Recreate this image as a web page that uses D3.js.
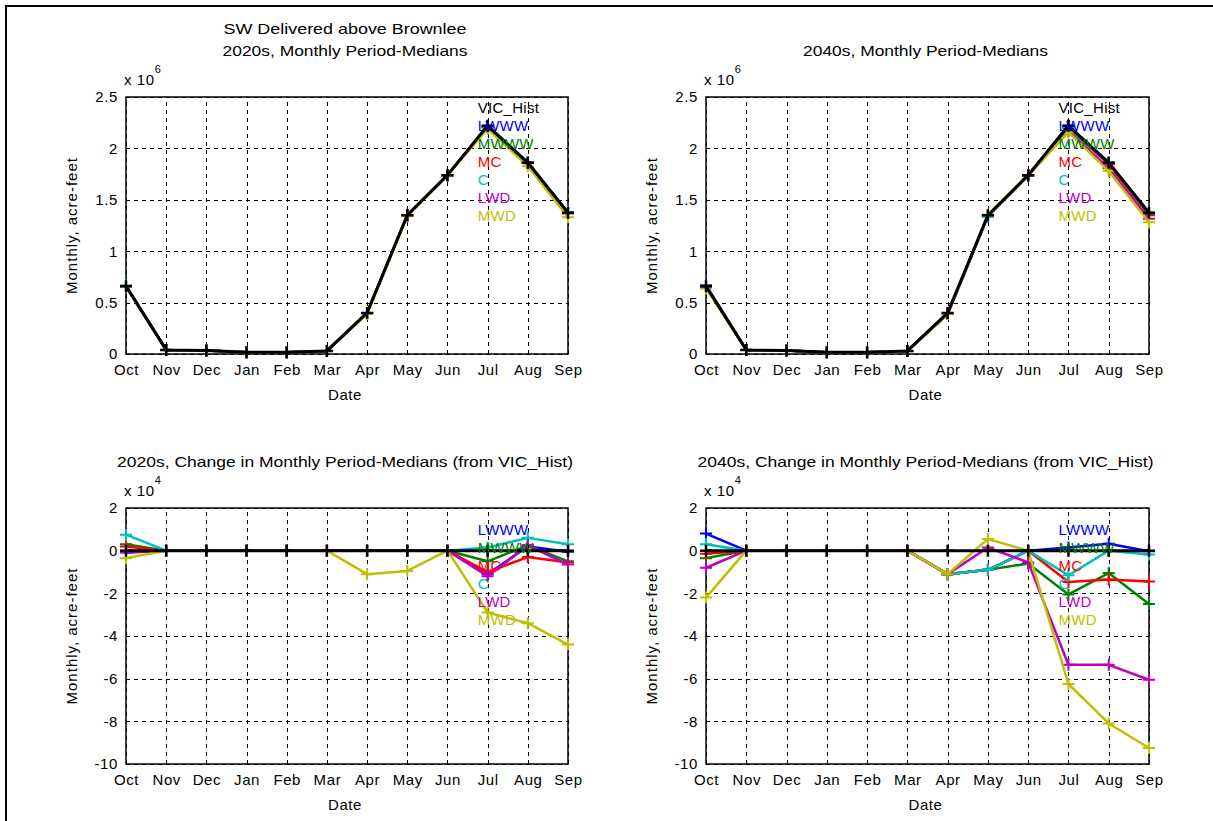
<!DOCTYPE html>
<html>
<head>
<meta charset="utf-8">
<script src="https://cdn.jsdelivr.net/npm/d3@7/dist/d3.min.js"></script>
<style>
html, body { margin: 0; background: #fff; overflow: hidden; }
svg { display: block; }
svg text { font-family: "Liberation Sans", Arial, Helvetica, sans-serif; fill: #000; }
</style>
</head>
<body>
<div id="chart"></div>
<script>
var months = ["Oct", "Nov", "Dec", "Jan", "Feb", "Mar", "Apr", "May", "Jun", "Jul", "Aug", "Sep"];
var scenarios = ["LWWW", "MWWW", "MC", "C", "LWD", "MWD"];

// VIC_Hist monthly period-medians, acre-feet
var vicHist = [660000, 40000, 33000, 16000, 16000, 30000, 400000, 1350000, 1740000, 2220000, 1860000, 1375000];

// change from VIC_Hist, acre-feet (2020s)
var chg2020s_LWWW = [0, 0, 0, 0, 0, 0, 0, 0, 0, -11000, 2000, -500];
var chg2020s_MWWW = [3000, 0, 0, 0, 0, 0, 0, 0, 0, -5000, 2500, -5000];
var chg2020s_MC   = [2000, 0, 0, 0, 0, 0, 0, 0, 0, -10000, -3000, -5500];
var chg2020s_C    = [7500, 0, 0, 0, 0, 0, 0, 0, 0, 1500, 6000, 3000];
var chg2020s_LWD  = [-1000, 0, 0, 0, 0, 0, 0, 0, 0, -12000, 2500, -6500];
var chg2020s_MWD  = [-3500, 0, 0, 0, 0, 0, -11000, -9500, 0, -29000, -34000, -44000];

// change from VIC_Hist, acre-feet (2040s)
var chg2040s_LWWW = [8000, 0, 0, 0, 0, 0, -11000, -9000, 0, 1500, 3200, -300];
var chg2040s_MWWW = [-3500, 0, 0, 0, 0, 0, -11000, -9000, -6000, -20500, -10500, -25000];
var chg2040s_MC   = [-1500, 0, 0, 0, 0, 0, -11000, -9000, 0, -14700, -13500, -14500];
var chg2040s_C    = [3000, 0, 0, 0, 0, 0, -11000, -9000, 0, -11500, 0, -1800];
var chg2040s_LWD  = [-8000, 0, 0, 0, 0, 0, -11000, 1500, -5500, -53500, -53500, -60500];
var chg2040s_MWD  = [-22000, 0, 0, 0, 0, 0, -11000, 5500, 0, -62500, -81000, -92500];

var levelTicks = [0, 500000, 1000000, 1500000, 2000000, 2500000];
var changeTicks = [-100000, -80000, -60000, -40000, -20000, 0, 20000];

var seriesColors = ["#0000ff", "#008000", "#ff0000", "#00bfbf", "#bf00bf", "#bfbf00"];
var histColor = "#000000";

var changes2020s = [chg2020s_LWWW, chg2020s_MWWW, chg2020s_MC, chg2020s_C, chg2020s_LWD, chg2020s_MWD];
var changes2040s = [chg2040s_LWWW, chg2040s_MWWW, chg2040s_MC, chg2040s_C, chg2040s_LWD, chg2040s_MWD];

var W = 1213, H = 821;
var svg = d3.select("#chart").append("svg").attr("width", W).attr("height", H);

// outer frame (only top and left edges are in the picture)
svg.append("line").attr("x1", 5).attr("x2", W).attr("y1", 6).attr("y2", 6).attr("stroke", "#000").attr("stroke-width", 2);
svg.append("line").attr("x1", 6).attr("x2", 6).attr("y1", 5).attr("y2", H).attr("stroke", "#000").attr("stroke-width", 2);

function levelSeries(changes){
    var out = [];
    changes.forEach(function(c, k){
        out.push({name: scenarios[k], color: seriesColors[k], width: 2.5,
            values: vicHist.map(function(v, i){ return v + c[i]; })});
    });
    out.push({name: "VIC_Hist", color: histColor, width: 3, values: vicHist});
    return out;
}

function changeSeries(changes){
    var out = [];
    changes.forEach(function(c, k){
        out.push({name: scenarios[k], color: seriesColors[k], width: 2.5, values: c});
    });
    out.push({name: "VIC_Hist", color: histColor, width: 3, values: vicHist.map(function(){ return 0; })});
    return out;
}

function drawPanel(p){
    var g = svg.append("g");
    var h = p.bottom - p.top;
    var w = p.right - p.left;
    var x = d3.scalePoint().domain(months).range([p.left, p.right]);
    var y = d3.scaleLinear().domain(p.domain).range([p.bottom, p.top]);

    // dashed grid
    g.append("g").attr("transform", "translate(0," + p.bottom + ")")
        .call(d3.axisBottom(x).tickSize(-h).tickFormat(""))
        .call(function(a){
            a.select(".domain").remove();
            a.selectAll("line").attr("stroke", "#000").attr("stroke-width", 1)
                .attr("stroke-dasharray", "4,4").attr("shape-rendering", "crispEdges");
        });
    g.append("g").attr("transform", "translate(" + p.left + ",0)")
        .call(d3.axisLeft(y).tickValues(p.ticks).tickSize(-w).tickFormat(""))
        .call(function(a){
            a.select(".domain").remove();
            a.selectAll("line").attr("stroke", "#000").attr("stroke-width", 1)
                .attr("stroke-dasharray", "4,4").attr("shape-rendering", "crispEdges");
        });

    // axes box
    g.append("rect").attr("x", p.left).attr("y", p.top).attr("width", w).attr("height", h)
        .attr("fill", "none").attr("stroke", "#000").attr("stroke-width", 1.5);

    // tick labels
    g.append("g").attr("transform", "translate(0," + p.bottom + ")")
        .call(d3.axisBottom(x).tickSize(0))
        .call(function(a){
            a.attr("font-size", null).attr("font-family", null);
            a.select(".domain").remove();
            a.selectAll("text").attr("y", 21).attr("dy", null)
                .style("font-size", "15px").style("letter-spacing", "0.6px");
        });
    g.append("g").attr("transform", "translate(" + p.left + ",0)")
        .call(d3.axisLeft(y).tickValues(p.ticks).tickSize(0).tickPadding(8)
            .tickFormat(function(d){ return String(Math.round(d / p.scale * 10) / 10); }))
        .call(function(a){
            a.attr("font-size", null).attr("font-family", null);
            a.select(".domain").remove();
            a.selectAll("text").style("font-size", "15px").style("letter-spacing", "0.6px");
        });

    // exponent
    var ex = g.append("text").attr("x", p.left - 2).attr("y", p.top - 12)
        .style("font-size", "15px").style("letter-spacing", "0.6px");
    ex.append("tspan").text("x 10");
    ex.append("tspan").attr("dy", -12).style("font-size", "11px").text(p.exp);

    // lines and + markers
    var line = d3.line().x(function(d, i){ return x(months[i]); }).y(function(d){ return y(d); });
    p.series.forEach(function(s){
        g.append("path").attr("d", line(s.values)).attr("fill", "none")
            .attr("stroke", s.color).attr("stroke-width", s.width).attr("stroke-linejoin", "round");
        g.append("g").selectAll("path").data(s.values).enter().append("path")
            .attr("d", function(d, i){
                var cx = x(months[i]), cy = y(d);
                return "M" + (cx - 6) + "," + cy + "h12M" + cx + "," + (cy - 6) + "v12";
            })
            .attr("stroke", s.color).attr("stroke-width", s.width - 0.5).attr("fill", "none");
    });

    // in-plot labels
    var lx = x("Jul") - 10;
    p.labels.forEach(function(name, i){
        var k = scenarios.indexOf(name);
        g.append("text").attr("x", lx).attr("y", p.top + p.labelStart + i * 18).attr("dy", "0.35em")
            .style("font-size", "15px").style("letter-spacing", "0.3px")
            .style("fill", k < 0 ? histColor : seriesColors[k]).text(name);
    });

    // titles
    var cx = (p.left + p.right) / 2 - 2;
    p.titles.forEach(function(t){
        g.append("text").attr("x", cx).attr("y", t.y).attr("text-anchor", "middle")
            .attr("textLength", t.len).attr("lengthAdjust", "spacingAndGlyphs")
            .style("font-size", "15px").text(t.text);
    });

    g.append("text").attr("x", cx).attr("y", p.bottom + 46).attr("text-anchor", "middle")
        .style("font-size", "15px").style("letter-spacing", "0.6px").text("Date");

    g.append("text").attr("transform", "translate(" + p.ylabelX + "," + ((p.top + p.bottom) / 2) + ") rotate(-90)")
        .attr("text-anchor", "middle").style("font-size", "15px").style("letter-spacing", "1px")
        .text("Monthly, acre-feet");
}

var levelLabels = ["VIC_Hist"].concat(scenarios);

drawPanel({
    left: 126, right: 568, top: 97, bottom: 354, ylabelX: 77,
    domain: [0, 2500000], ticks: levelTicks, scale: 1e6, exp: "6",
    series: levelSeries(changes2020s), labels: levelLabels, labelStart: 11,
    titles: [{text: "SW Delivered above Brownlee", y: 34, len: 243},
             {text: "2020s, Monthly Period-Medians", y: 56, len: 245}]
});
drawPanel({
    left: 706, right: 1149, top: 97, bottom: 354, ylabelX: 657,
    domain: [0, 2500000], ticks: levelTicks, scale: 1e6, exp: "6",
    series: levelSeries(changes2040s), labels: levelLabels, labelStart: 11,
    titles: [{text: "2040s, Monthly Period-Medians", y: 56, len: 245}]
});
drawPanel({
    left: 126, right: 568, top: 508, bottom: 764, ylabelX: 77,
    domain: [-100000, 20000], ticks: changeTicks, scale: 1e4, exp: "4",
    series: changeSeries(changes2020s), labels: scenarios, labelStart: 22,
    titles: [{text: "2020s, Change in Monthly Period-Medians (from VIC_Hist)", y: 467, len: 456}]
});
drawPanel({
    left: 706, right: 1149, top: 508, bottom: 764, ylabelX: 657,
    domain: [-100000, 20000], ticks: changeTicks, scale: 1e4, exp: "4",
    series: changeSeries(changes2040s), labels: scenarios, labelStart: 22,
    titles: [{text: "2040s, Change in Monthly Period-Medians (from VIC_Hist)", y: 467, len: 456}]
});
</script>
</body>
</html>
